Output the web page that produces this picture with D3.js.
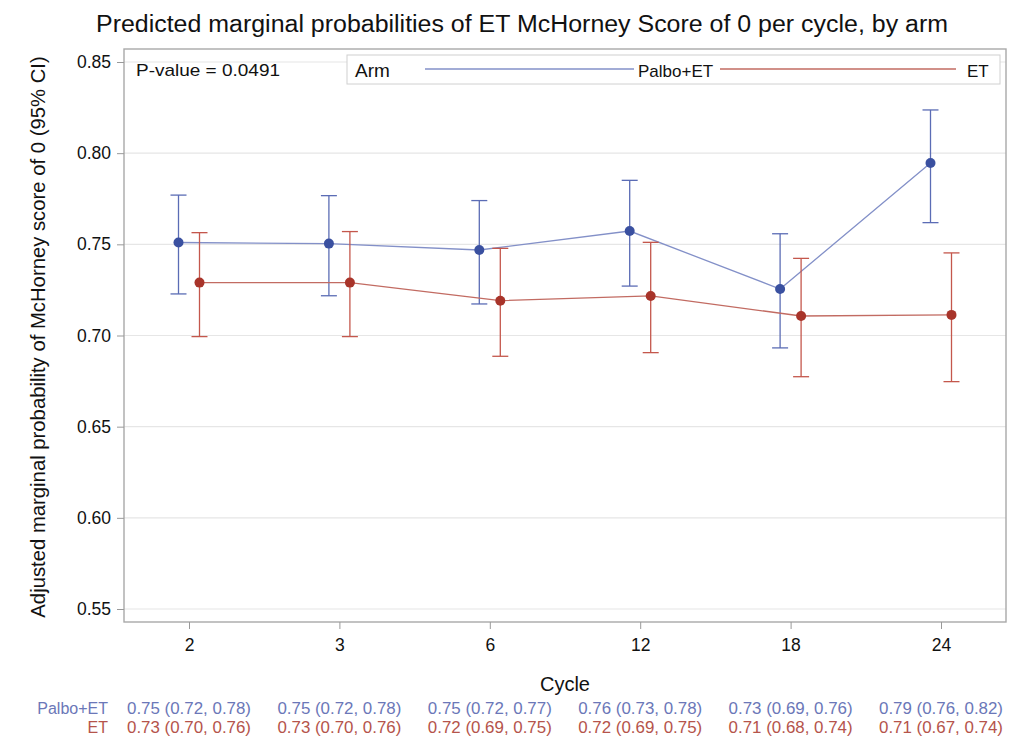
<!DOCTYPE html>
<html>
<head>
<meta charset="utf-8">
<script src="https://cdn.jsdelivr.net/npm/d3@7"></script>
<style>
html,body{margin:0;padding:0;background:#fff;}
svg{display:block;font-family:"Liberation Sans",Arial,sans-serif;}
</style>
</head>
<body>
<svg id="chart" width="1011" height="750"></svg>
<script>
const cycles = ["2","3","6","12","18","24"];
const armNames = ["Palbo+ET","ET"];
const palboEst = [0.7510, 0.7504, 0.7469, 0.7573, 0.7255, 0.7946];
const palboLow = [0.7228, 0.7218, 0.7173, 0.7271, 0.6932, 0.7619];
const palboHigh = [0.7770, 0.7767, 0.7740, 0.7851, 0.7558, 0.8237];
const etEst = [0.7290, 0.7290, 0.7191, 0.7217, 0.7107, 0.7113];
const etLow = [0.6994, 0.6994, 0.6886, 0.6906, 0.6774, 0.6747];
const etHigh = [0.7564, 0.7570, 0.7478, 0.7511, 0.7423, 0.7453];
const yTicks = [0.55, 0.60, 0.65, 0.70, 0.75, 0.80, 0.85];
const palboTable = ["0.75 (0.72, 0.78)","0.75 (0.72, 0.78)","0.75 (0.72, 0.77)","0.76 (0.73, 0.78)","0.73 (0.69, 0.76)","0.79 (0.76, 0.82)"];
const etTable = ["0.73 (0.70, 0.76)","0.73 (0.70, 0.76)","0.72 (0.69, 0.75)","0.72 (0.69, 0.75)","0.71 (0.68, 0.74)","0.71 (0.67, 0.74)"];
const pValueText = "P-value = 0.0491";

const svg = d3.select("#chart");
const frame = {left:124, right:1006, top:49, bottom:622};

const x = d3.scalePoint().domain(cycles).range([189, 941]);
const y = d3.scaleLinear().domain([0.55, 0.85]).range([609, 62]);

const series = [
  {name: armNames[0], est: palboEst, low: palboLow, high: palboHigh, off: -10.5,
   line:"#8390c8", bar:"#5b6cb5", dot:"#3a50a0", text:"#6b77b8"},
  {name: armNames[1], est: etEst, low: etLow, high: etHigh, off: 10.5,
   line:"#c26b62", bar:"#c4574c", dot:"#a8342a", text:"#b5544b"}
];

// title
svg.append("text").attr("x", 522).attr("y", 32).attr("text-anchor","middle")
  .attr("font-size", 23).attr("fill","#111")
  .attr("textLength", 852).attr("lengthAdjust","spacingAndGlyphs")
  .text("Predicted marginal probabilities of ET McHorney Score of 0 per cycle, by arm");

// gridlines
svg.append("g").selectAll("line").data(yTicks).join("line")
  .attr("x1", frame.left).attr("x2", frame.right)
  .attr("y1", d=>y(d)).attr("y2", d=>y(d))
  .attr("stroke","#e6e6e6").attr("stroke-width",1.2);

// frame
svg.append("rect").attr("x", frame.left).attr("y", frame.top)
  .attr("width", frame.right-frame.left).attr("height", frame.bottom-frame.top)
  .attr("fill","none").attr("stroke","#a9a9a9").attr("stroke-width",1.4);

// y axis
const yAxis = svg.append("g").attr("transform",`translate(${frame.left},0)`)
  .call(d3.axisLeft(y).tickValues(yTicks).tickFormat(d3.format(".2f")).tickSize(7).tickPadding(6));
yAxis.select(".domain").remove();
yAxis.selectAll("line").attr("stroke","#999");
yAxis.selectAll("text").attr("font-size",17.5).attr("fill","#111").attr("font-family","Liberation Sans, Arial, sans-serif");

// x axis
const xAxis = svg.append("g").attr("transform",`translate(0,${frame.bottom})`)
  .call(d3.axisBottom(x).tickSize(7).tickPadding(10));
xAxis.select(".domain").remove();
xAxis.selectAll("line").attr("stroke","#999");
xAxis.selectAll("text").attr("font-size",17.5).attr("fill","#111").attr("font-family","Liberation Sans, Arial, sans-serif");

// axis titles
svg.append("text").attr("x", 565).attr("y", 691).attr("text-anchor","middle")
  .attr("font-size",20).attr("fill","#111").text("Cycle");
svg.append("text").attr("transform","translate(45,337) rotate(-90)").attr("text-anchor","middle")
  .attr("font-size",20.3).attr("fill","#111")
  .text("Adjusted marginal probability of McHorney score of 0 (95% CI)");

// series
const capHalf = 8;
series.forEach(s=>{
  const g = svg.append("g");
  const pts = cycles.map((c,i)=>({c, e:s.est[i], lo:s.low[i], hi:s.high[i]}));
  g.append("path").datum(pts)
    .attr("d", d3.line().x(d=>x(d.c)+s.off).y(d=>y(d.e)))
    .attr("fill","none").attr("stroke", s.line).attr("stroke-width",1.3);
  const eb = g.selectAll("g.eb").data(pts).join("g").attr("class","eb");
  eb.append("line").attr("x1",d=>x(d.c)+s.off).attr("x2",d=>x(d.c)+s.off)
    .attr("y1",d=>y(d.lo)).attr("y2",d=>y(d.hi)).attr("stroke",s.bar).attr("stroke-width",1.3);
  eb.append("line").attr("x1",d=>x(d.c)+s.off-capHalf).attr("x2",d=>x(d.c)+s.off+capHalf)
    .attr("y1",d=>y(d.hi)).attr("y2",d=>y(d.hi)).attr("stroke",s.bar).attr("stroke-width",1.3);
  eb.append("line").attr("x1",d=>x(d.c)+s.off-capHalf).attr("x2",d=>x(d.c)+s.off+capHalf)
    .attr("y1",d=>y(d.lo)).attr("y2",d=>y(d.lo)).attr("stroke",s.bar).attr("stroke-width",1.3);
  g.selectAll("circle").data(pts).join("circle")
    .attr("cx",d=>x(d.c)+s.off).attr("cy",d=>y(d.e)).attr("r",5)
    .attr("fill",s.dot);
});

// p-value
svg.append("text").attr("x",136).attr("y",76).attr("font-size",17).attr("fill","#111")
  .attr("textLength",144).attr("lengthAdjust","spacingAndGlyphs").text(pValueText);

// legend
const lg = svg.append("g");
lg.append("rect").attr("x",347).attr("y",55).attr("width",653).attr("height",29)
  .attr("fill","#fff").attr("stroke","#d0d0d0").attr("stroke-width",1);
lg.append("text").attr("x",355).attr("y",77).attr("font-size",19).attr("fill","#111").text("Arm");
lg.append("line").attr("x1",425).attr("x2",634).attr("y1",69).attr("y2",69).attr("stroke",series[0].line).attr("stroke-width",1.5);
lg.append("text").attr("x",638).attr("y",77).attr("font-size",17).attr("fill","#111").text(series[0].name);
lg.append("line").attr("x1",720).attr("x2",956).attr("y1",69).attr("y2",69).attr("stroke",series[1].line).attr("stroke-width",1.5);
lg.append("text").attr("x",967).attr("y",77).attr("font-size",17).attr("fill","#111").text(series[1].name);

// table below
const rows = [{label: armNames[0], vals: palboTable, col: series[0].text, y: 714},
              {label: armNames[1], vals: etTable, col: series[1].text, y: 733}];
rows.forEach(r=>{
  svg.append("text").attr("x",108).attr("y",r.y).attr("text-anchor","end")
    .attr("font-size",16).attr("fill",r.col).text(r.label);
  svg.append("g").selectAll("text").data(cycles).join("text")
    .attr("x",d=>x(d)).attr("y",r.y).attr("text-anchor","middle")
    .attr("font-size",16).attr("fill",r.col)
    .attr("textLength",124).attr("lengthAdjust","spacingAndGlyphs")
    .text((d,i)=>r.vals[i]);
});
</script>
</body>
</html>
